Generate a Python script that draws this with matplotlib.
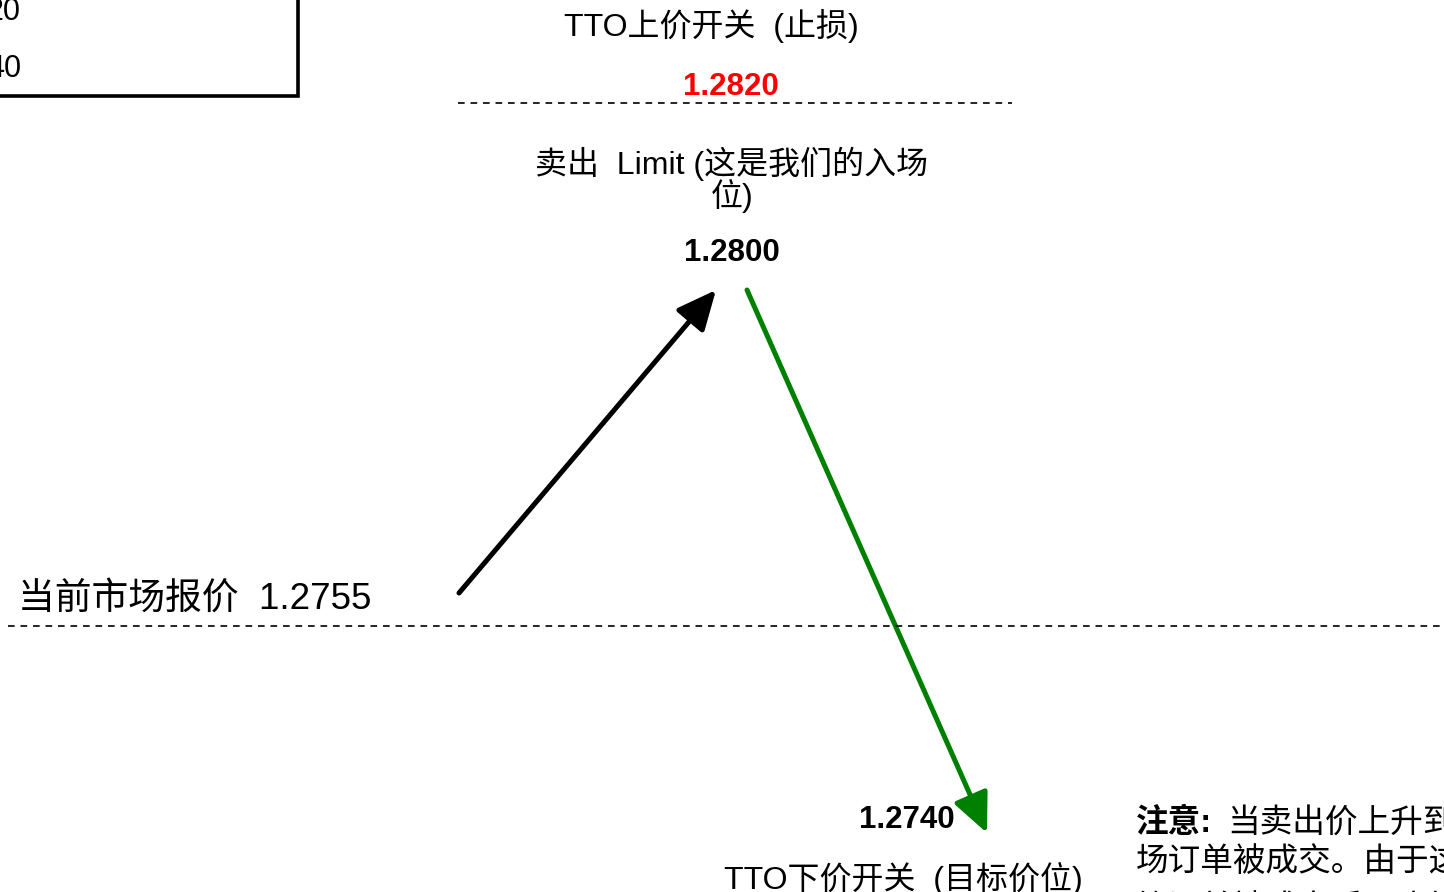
import matplotlib
matplotlib.use("Agg")
import matplotlib.pyplot as plt
from matplotlib.patches import Rectangle, FancyArrowPatch

plt.rcParams['font.family'] = ['Liberation Sans', 'Noto Sans CJK SC', 'DejaVu Sans']

# ---- data ----
stop_label = "TTO上价开关  (止损)"
stop_price = "1.2820"
entry_label = "卖出  Limit (这是我们的入场\n位)"
entry_price = "1.2800"
market_label = "当前市场报价  1.2755"
target_price = "1.2740"
target_label = "TTO下价开关  (目标价位)"
box_values = ["20", "40"]
note_bold = "注意:"
note_lines = ["当卖出价上升到", "场订单被成交。由于这", "笔订单被成交后，止损"]

W, H = 1444, 892
fig = plt.figure(figsize=(W / 100, H / 100), dpi=100)
ax = fig.add_axes([0, 0, 1, 1])
ax.set_xlim(0, W)
ax.set_ylim(H, 0)
ax.axis('off')

# top-left box (cropped)
ax.add_patch(Rectangle((-20, -20), 318, 116, fill=False, ec='black', lw=2.6, clip_on=True))
ax.text(21, 12, box_values[0], ha='right', va='center', fontsize=22)
ax.text(21, 69, box_values[1], ha='right', va='center', fontsize=22)

# dashed lines
dash = (0, (4, 3.5))
ax.plot([458, 1012], [103, 103], color='black', lw=1.2, linestyle=dash)
ax.plot([8, 1444], [626, 626], color='black', lw=1.2, linestyle=dash)

# texts
ax.text(711, 26, stop_label, ha='center', va='center', fontsize=23)
ax.text(731, 87, stop_price, ha='center', va='center', fontsize=22.5, fontweight='bold', color='#ff0000')
ax.text(732, 180, entry_label, ha='center', va='center', fontsize=23, linespacing=0.95,
        multialignment='center')
ax.text(732, 253, entry_price, ha='center', va='center', fontsize=22.5, fontweight='bold')
ax.text(18, 599, market_label, ha='left', va='center', fontsize=26.5)
ax.text(907, 820, target_price, ha='center', va='center', fontsize=22.5, fontweight='bold')
ax.text(903, 879, target_label, ha='center', va='center', fontsize=23)

# note (cropped at right)
ax.text(1136, 823, note_bold, ha='left', va='center', fontsize=23.5, fontweight='bold')
ax.text(1227, 823, note_lines[0], ha='left', va='center', fontsize=23.5)
ax.text(1136, 863, note_lines[1], ha='left', va='center', fontsize=23.5)
ax.text(1136, 910, note_lines[2], ha='left', va='center', fontsize=23.5)

# arrows
a1 = FancyArrowPatch((459, 593), (716, 290), arrowstyle='-|>,head_length=12,head_width=5.5',
                     mutation_scale=2, color='black', lw=3.6, shrinkA=0, shrinkB=0)
ax.add_patch(a1)
a2 = FancyArrowPatch((747, 290), (987, 833), arrowstyle='-|>,head_length=12,head_width=5.5',
                     mutation_scale=2, color='#008000', lw=3.6, shrinkA=0, shrinkB=0)
ax.add_patch(a2)

fig.savefig('out.png', dpi=100, facecolor='white')
